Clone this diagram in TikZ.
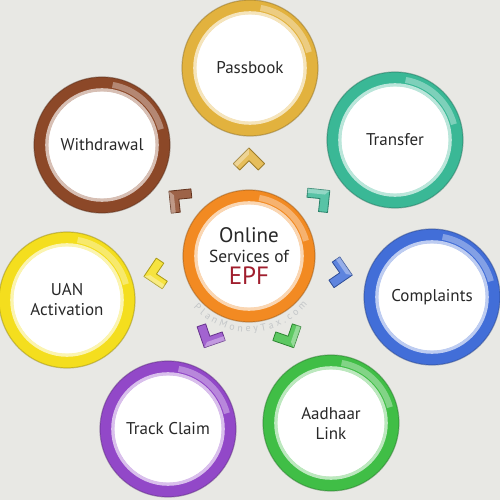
\documentclass[tikz,border=0pt]{standalone}
\usepackage{fontspec}
\setmainfont{PT Sans}
\usetikzlibrary{decorations.text}
\definecolor{bg}{RGB}{232,232,228}
\definecolor{txt}{RGB}{40,40,40}
\definecolor{passc}{RGB}{226,178,62}
\definecolor{withc}{RGB}{140,72,40}
\definecolor{tranc}{RGB}{58,184,150}
\definecolor{compc}{RGB}{66,110,216}
\definecolor{aadc}{RGB}{64,190,70}
\definecolor{trakc}{RGB}{146,72,200}
\definecolor{uanc}{RGB}{244,222,30}
\definecolor{epfc}{RGB}{242,138,34}
\definecolor{epfred}{RGB}{160,30,45}
\definecolor{wmc}{RGB}{195,198,200}
\newcommand\labfont{\fontsize{8.5}{10}\selectfont}
\newcommand\ringdeco[5]{% node, colour, inner, mid, outer radius
  \draw[#2!60!black, line width=0.6pt, opacity=.45] (#1.center) circle (#5);
  \draw[#2!35!white, line width=1.6pt] (#1.center) circle (#3);
  \draw[white, opacity=.35, line width=3pt] (#1.center) ++(15:#4) arc (15:80:#4);
}
\newcommand\chev[4]{% angle, distance, name, colour
  \path (epf.center) ++(#1:#2) coordinate (#3);
  \begin{scope}[shift={(#3)}, rotate=#1]
    \filldraw[fill=#4!85!white, draw=#4!70!black, line width=0.4pt, line join=round]
      (11,0) -- (-4.6,15.6) -- (-11,9.2) -- (-1.7,0) -- (-11,-9.2) -- (-4.6,-15.6) -- cycle;
    \fill[white, opacity=.35] (11,0) -- (-4.6,15.6) -- (-7.8,12.4) -- (4.65,0) -- cycle;
  \end{scope}}
\begin{document}
\begin{tikzpicture}[x=0.5pt, y=0.5pt,
  svc/.style={circle, minimum size=61pt, inner sep=0pt, fill=white, draw=#1,
    line width=7pt, font=\labfont, text=txt, align=center}]
\useasboundingbox (0,0) rectangle (500,500);
\fill[bg] (0,0) rectangle (500,500);

\node[svc=epfc, minimum size=59pt] (epf) at (249,244)
  {{\fontsize{10.5}{13}\selectfont Online}\\[0pt]
   {\fontsize{8.7}{11}\selectfont Services of}\\[1pt]
   {\fontsize{12.5}{13}\selectfont\color{epfred} EPF}};
\ringdeco{epf}{epfc}{26.6pt}{29.5pt}{33pt}

\node[svc=passc] (pass) at (250,432) {Passbook};
\node[svc=withc] (with) at (102,355) {Withdrawal};
\node[svc=tranc] (tran) at (395,360) {Transfer};
\node[svc=compc] (comp) at (432,203) {Complaints};
\node[svc=aadc]  (aad)  at (331,77)  {Aadhaar\\Link};
\node[svc=trakc] (trak) at (168,71)  {Track Claim};
\node[svc=uanc]  (uan)  at (67,200)  {UAN\\Activation};

\ringdeco{pass}{passc}{27.6pt}{30.5pt}{34pt}
\ringdeco{with}{withc}{27.6pt}{30.5pt}{34pt}
\ringdeco{tran}{tranc}{27.6pt}{30.5pt}{34pt}
\ringdeco{comp}{compc}{27.6pt}{30.5pt}{34pt}
\ringdeco{aad}{aadc}{27.6pt}{30.5pt}{34pt}
\ringdeco{trak}{trakc}{27.6pt}{30.5pt}{34pt}
\ringdeco{uan}{uanc}{27.6pt}{30.5pt}{34pt}

\chev{90}{97}{cpass}{passc}
\chev{141}{92}{cwith}{withc}
\chev{39}{93}{ctran}{tranc}
\chev{-10.5}{94}{ccomp}{compc}
\chev{-64}{91}{caad}{aadc}
\chev{-116}{91}{ctrak}{trakc}
\chev{-169}{96}{cuan}{uanc}

\path[decorate, decoration={text along path, text align={fit to path},
  text color=wmc, text={|\fontsize{5}{6}\selectfont|PlanMoneyTax.com}}]
  (epf.center) ++(-137:38pt) arc (-137:-40:38pt);
\end{tikzpicture}
\end{document}
